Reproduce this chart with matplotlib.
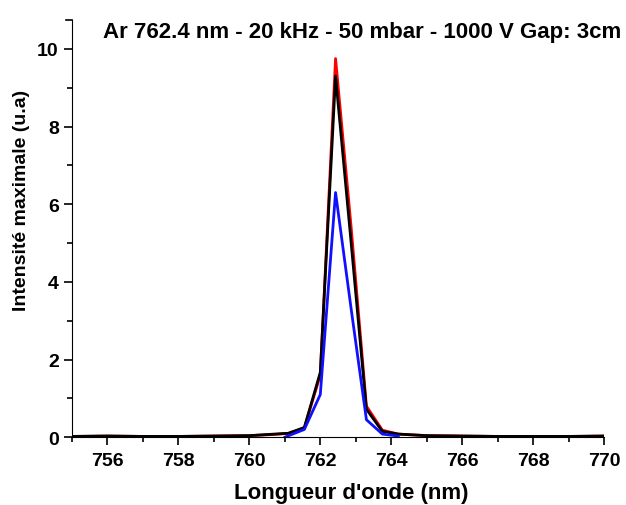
import matplotlib.pyplot as plt
from matplotlib.ticker import MultipleLocator

plt.rcParams['font.family'] = ['Liberation Sans', 'DejaVu Sans']
plt.rcParams['font.weight'] = 'bold'

# wavelength (nm)
wl = [755.0, 756.0, 757.0, 758.0, 759.0, 760.0, 760.7, 761.1, 761.55, 762.0,
      762.43, 762.87, 763.3, 763.75, 764.2, 765.0, 766.0, 767.0, 768.0, 769.0, 770.0]

red = [0.02, 0.03, 0.02, 0.02, 0.03, 0.04, 0.07, 0.10, 0.24, 1.60,
       9.75, 5.40, 0.80, 0.18, 0.08, 0.04, 0.03, 0.02, 0.02, 0.02, 0.03]
black = [0.02, 0.03, 0.02, 0.02, 0.03, 0.04, 0.08, 0.10, 0.25, 1.67,
         9.30, 5.00, 0.72, 0.15, 0.08, 0.04, 0.03, 0.02, 0.02, 0.02, 0.03]

wl_blue = [761.0, 761.55, 762.0, 762.43, 762.87, 763.3, 763.75, 764.2]
blue = [0.0, 0.20, 1.10, 6.30, 3.30, 0.45, 0.08, 0.03]

title = "Ar 762.4 nm - 20 kHz - 50 mbar - 1000 V Gap: 3cm"

fig = plt.figure(figsize=(6.26, 5.06), dpi=100)
ax = fig.add_axes([0.115, 0.134, 0.85, 0.825])

ax.plot(wl, red, color='#ff0000', lw=2.0)
ax.plot(wl, black, color='black', lw=2.0)
ax.plot(wl_blue, blue, color='#1010ff', lw=2.0)

ax.set_xlim(755, 770)
ax.set_ylim(0, 10.75)
ax.xaxis.set_major_locator(MultipleLocator(2))
ax.xaxis.set_minor_locator(MultipleLocator(1))
ax.yaxis.set_major_locator(MultipleLocator(2))
ax.yaxis.set_minor_locator(MultipleLocator(1))
ax.set_xticks([756, 758, 760, 762, 764, 766, 768, 770])

ax.spines['top'].set_visible(False)
ax.spines['right'].set_visible(False)
ax.tick_params(which='major', direction='out', length=6, width=1.2, labelsize=14)
ax.tick_params(axis='x', which='major', pad=5)
ax.tick_params(which='minor', direction='out', length=3.5, width=1.2)
for lab in ax.get_xticklabels() + ax.get_yticklabels():
    lab.set_fontweight('bold')

ax.set_xlabel("Longueur d'onde (nm)", fontsize=16, fontweight='bold', va='center')
ax.set_ylabel("Intensité maximale (u.a)", fontsize=14, fontweight='bold', va='center')
ax.xaxis.set_label_coords(0.524, -0.133)
ax.yaxis.set_label_coords(-0.094, 0.57)

ax.text(0.058, 0.997, title, transform=ax.transAxes, ha='left', va='top',
        fontsize=16, fontweight='bold')

# little end tick at top of y axis
ax.plot([-0.012, 0], [1, 1], transform=ax.transAxes, color='black', lw=1.2, clip_on=False)

fig.savefig('out.png', dpi=100)
